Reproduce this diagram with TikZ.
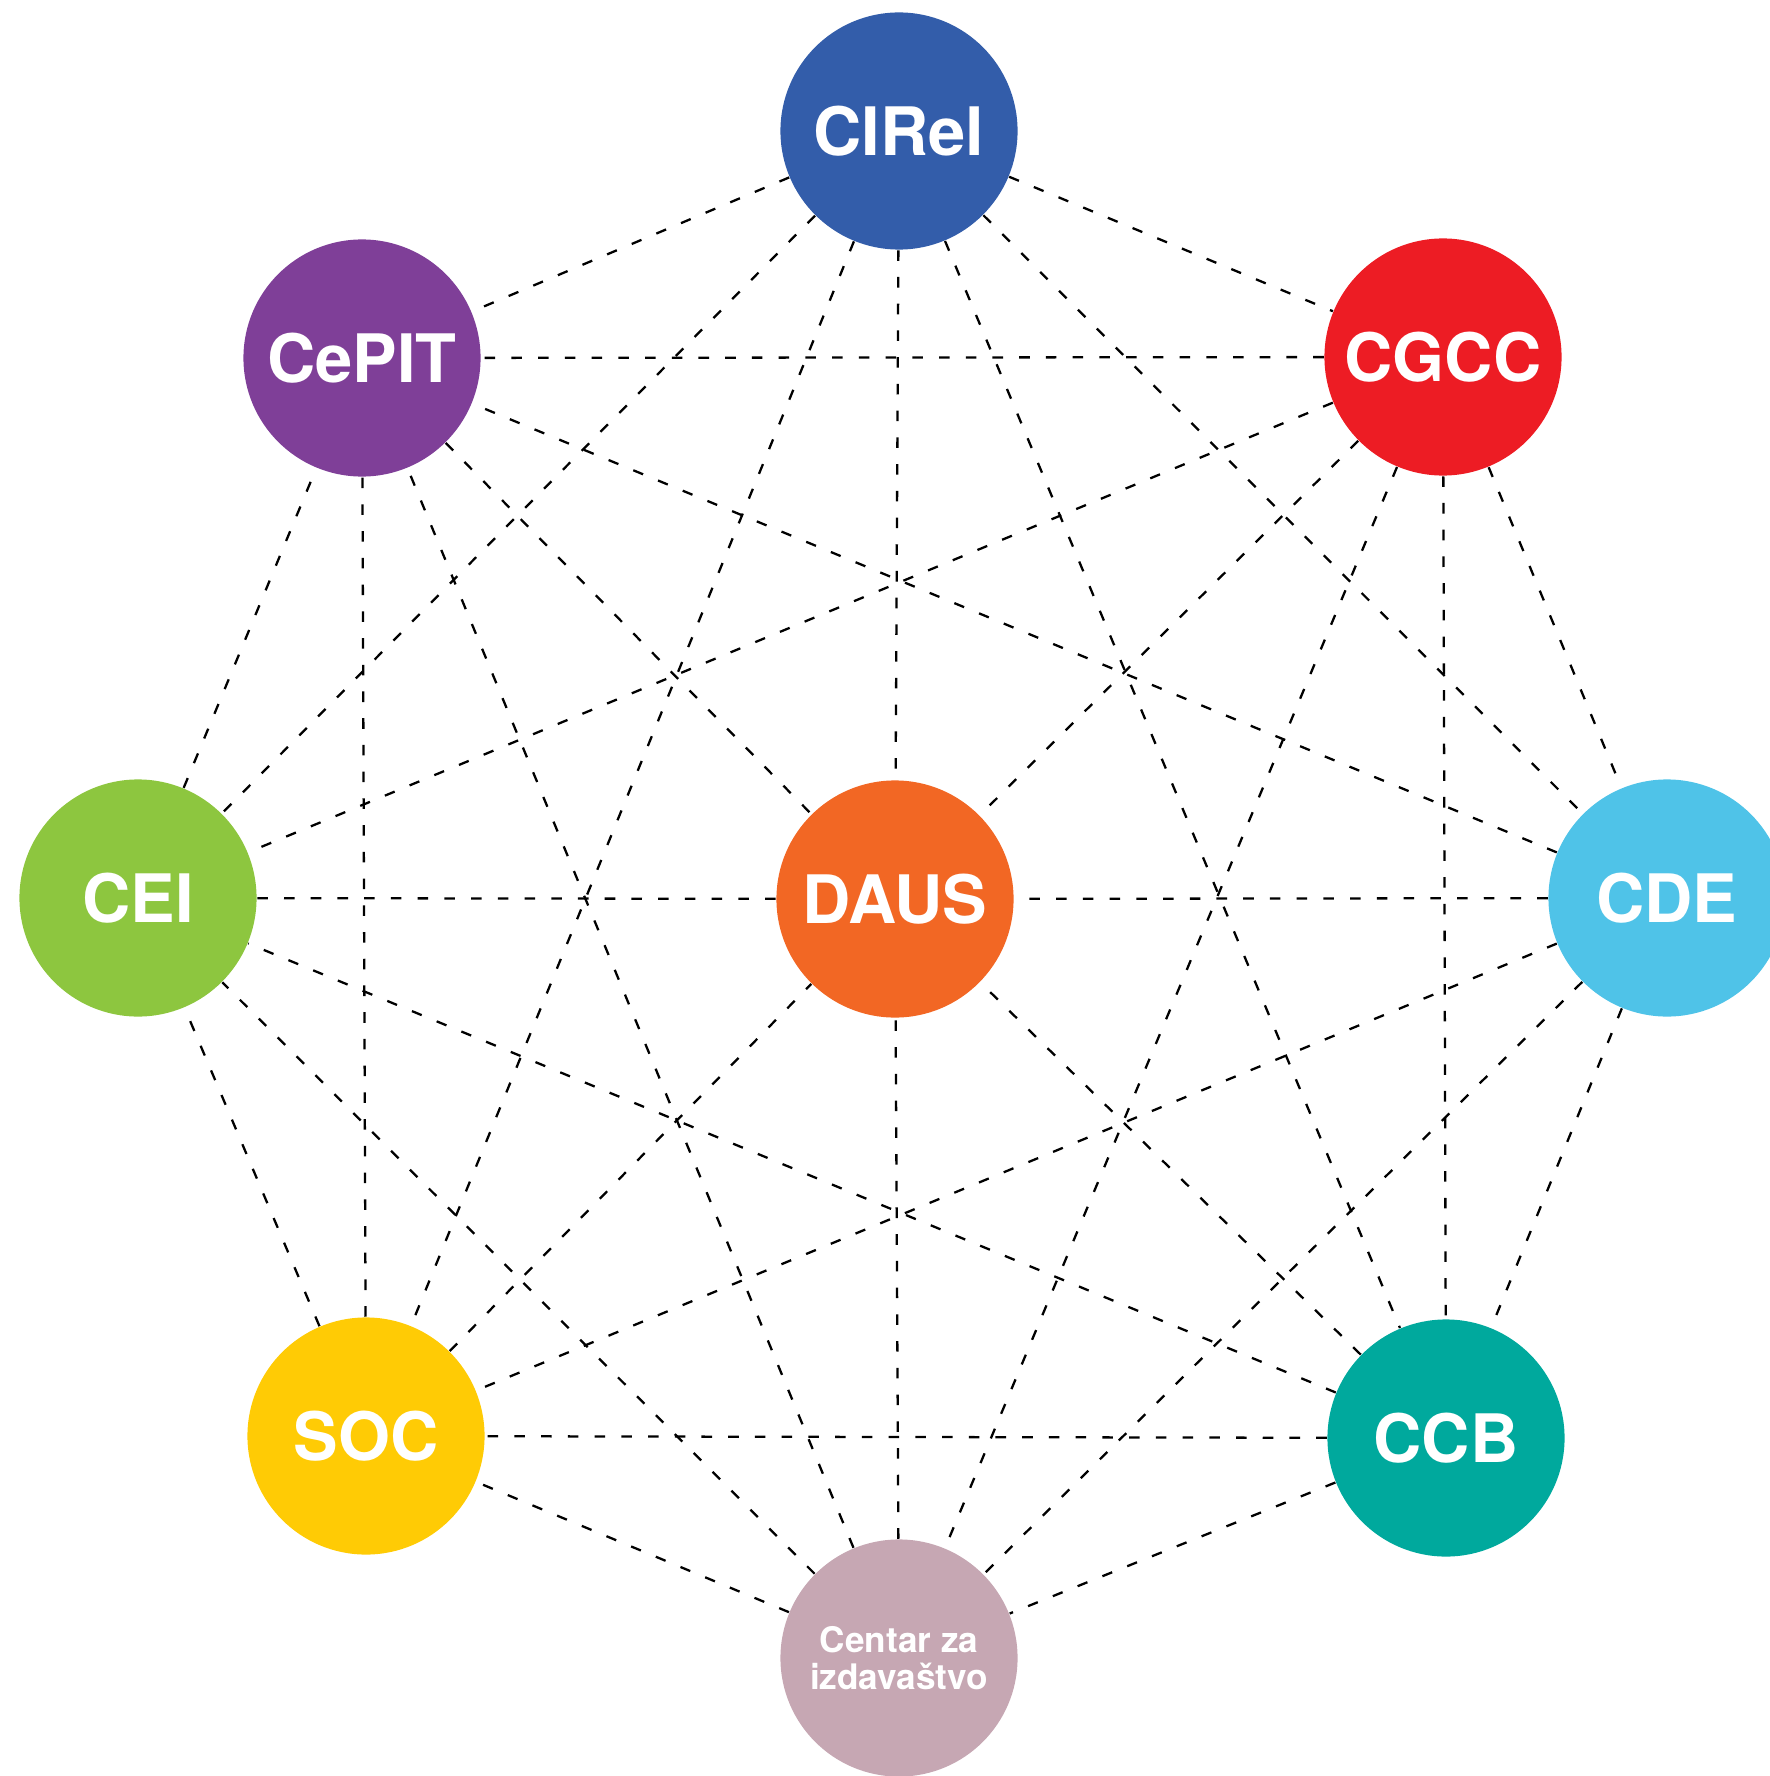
\documentclass[tikz,border=0pt]{standalone}
\usepackage{fontspec}
\setmainfont{TeX Gyre Heros}
\definecolor{cirelblue}{RGB}{51,93,170}
\definecolor{cepitpurple}{RGB}{127,63,152}
\definecolor{cgccred}{RGB}{237,28,36}
\definecolor{cdecyan}{RGB}{79,195,232}
\definecolor{ceigreen}{RGB}{141,198,63}
\definecolor{dausorange}{RGB}{242,103,36}
\definecolor{socyellow}{RGB}{255,203,5}
\definecolor{ccbteal}{RGB}{0,169,157}
\definecolor{centarmauve}{RGB}{198,167,179}
\tikzset{ u/.style = { circle
                       , draw = none
                       , inner sep    = 0pt
                       , minimum size = 2.37cm
                       , text = white
                       , font = \fontsize{19}{22}\selectfont\bfseries
                       },
          link/.style = { draw = black
                       , line width = 0.65pt
                       , dash pattern = on 3pt off 4.6pt
                       }
          }
\begin{document}
\begin{tikzpicture}[x=0.01cm, y=-0.01cm]
            \useasboundingbox (0,0) rectangle (1769,1776);
            % outer ring
            \node[u, fill=cirelblue]   (cirel)  at (899,131)  {CIRel};
            \node[u, fill=cgccred]     (cgcc)   at (1443,357) {CGCC};
            \node[u, fill=cdecyan]     (cde)    at (1667,898) {CDE};
            \node[u, fill=ccbteal]     (ccb)    at (1446,1438) {CCB};
            \node[u, fill=centarmauve, align=center,
                  font=\fontsize{10}{10.6}\selectfont\bfseries]
                                       (centar) at (899,1658) {Centar za\\izdavaštvo};
            \node[u, fill=socyellow]   (soc)    at (366,1436) {SOC};
            \node[u, fill=ceigreen]    (cei)    at (138,898)  {CEI};
            \node[u, fill=cepitpurple] (cepit)  at (362,358)  {CePIT};
            % middle
            \node[u, fill=dausorange]  (daus)   at (895,899)  {DAUS};
            % links
            \path[link] (cirel) edge (cgcc) edge (cde) edge (ccb)
                                edge (soc) edge (cei) edge (cepit) edge (daus);
            \path[link] (cgcc) edge (cde) edge (ccb) edge (centar)
                               edge (cei) edge (cepit) edge (daus);
            \path[link] (cde) edge (ccb) edge (centar) edge (soc)
                              edge (cepit) edge (daus);
            \path[link] (ccb) edge (centar) edge (soc) edge (cei) edge (daus);
            \path[link] (centar) edge (soc) edge (cei) edge (cepit) edge (daus);
            \path[link] (soc) edge (cei) edge (cepit) edge (daus);
            \path[link] (cei) edge (cepit) edge (daus);
            \path[link] (cepit) edge (daus);
        \end{tikzpicture}
\end{document}
